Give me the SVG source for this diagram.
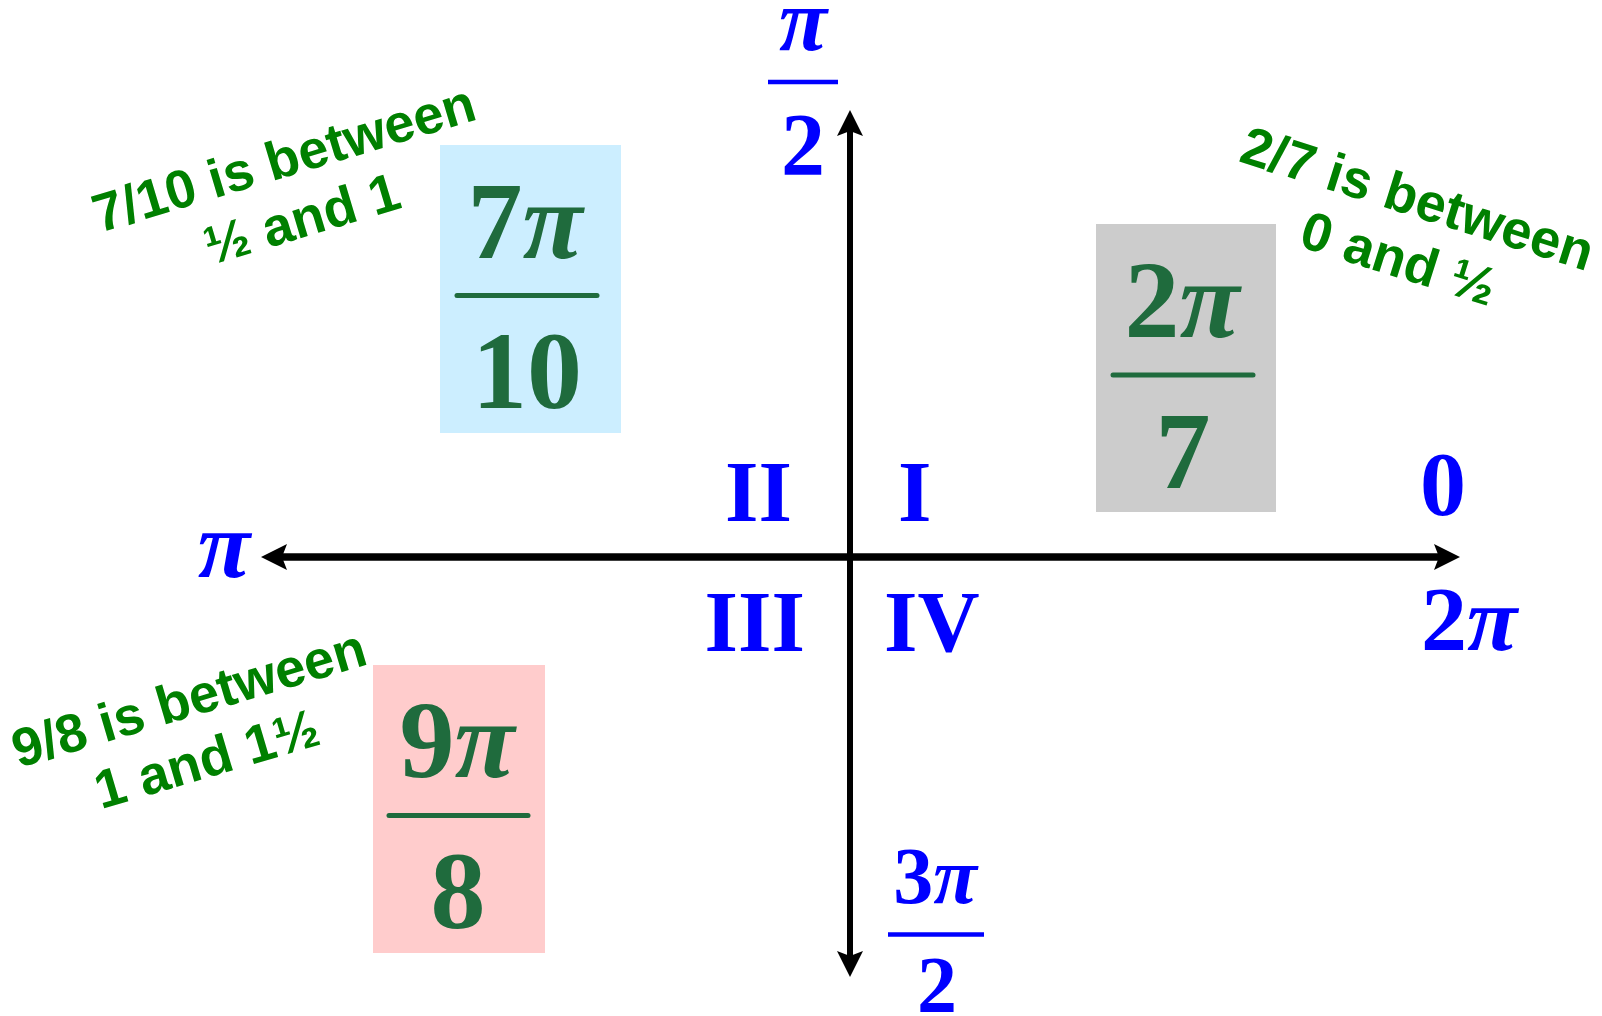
<svg xmlns="http://www.w3.org/2000/svg" width="1602" height="1016" viewBox="0 0 1602 1016">
<style>
  .num { font-family: "Liberation Serif", "Times New Roman", serif; font-weight: bold; fill: #1f6b3d; }
  .pi { font-style: italic; }
  .blue { font-family: "Liberation Serif", "Times New Roman", serif; font-weight: bold; fill: #0000ff; }
  .note { font-family: "Liberation Sans", Arial, sans-serif; font-weight: bold; fill: #008000; font-size: 54px; text-anchor: middle; }
  .bar { stroke: #1f6b3d; stroke-width: 5; stroke-linecap: round; }
  .bbar { stroke: #0000ff; stroke-width: 4.5; }
  .axis { stroke: #000; fill: none; }
</style>
<defs>
  <marker id="arrow" viewBox="0 -13 26 26" refX="10" refY="0" markerWidth="26" markerHeight="26" markerUnits="userSpaceOnUse" orient="auto-start-reverse">
    <path d="M0,-13 L26,0 L0,13 L5,0 Z" fill="#000"/>
  </marker>
</defs>
<rect width="1602" height="1016" fill="#fff"/>

<g id="connectors">
  <line class="axis" x1="277" y1="557" x2="1444" y2="557" stroke-width="7.5" marker-start="url(#arrow)" marker-end="url(#arrow)"/>
  <line class="axis" x1="850" y1="126" x2="850" y2="961" stroke-width="6" marker-start="url(#arrow)" marker-end="url(#arrow)"/>
</g>

<g id="box-7pi-10">
  <rect x="440" y="145" width="181" height="288" fill="#cceeff"/>
  <text class="num" x="525" y="258" font-size="110" text-anchor="middle">7<tspan class="pi">π</tspan></text>
  <line class="bar" x1="457" y1="295.5" x2="597" y2="295.5"/>
  <text class="num" x="527" y="408" font-size="110" text-anchor="middle">10</text>
</g>

<g id="box-2pi-7">
  <rect x="1096" y="224" width="180" height="288" fill="#cccccc"/>
  <text class="num" x="1182" y="337" font-size="110" text-anchor="middle">2<tspan class="pi">π</tspan></text>
  <line class="bar" x1="1113" y1="375" x2="1253" y2="375"/>
  <text class="num" x="1183" y="488" font-size="110" text-anchor="middle">7</text>
</g>

<g id="box-9pi-8">
  <rect x="373" y="665" width="172" height="288" fill="#ffcccc"/>
  <text class="num" x="457" y="777" font-size="110" text-anchor="middle">9<tspan class="pi">π</tspan></text>
  <line class="bar" x1="389" y1="815.5" x2="528" y2="815.5"/>
  <text class="num" x="458" y="928" font-size="110" text-anchor="middle">8</text>
</g>

<g id="label-pi-over-2">
  <text class="blue pi" x="803" y="50" font-size="88" text-anchor="middle">π</text>
  <line class="bbar" x1="768" y1="82" x2="838" y2="82"/>
  <text class="blue" x="803" y="174" font-size="88" text-anchor="middle">2</text>
</g>

<g id="label-3pi-over-2">
  <text class="blue" x="935" y="903" font-size="80" text-anchor="middle">3<tspan class="pi">π</tspan></text>
  <line class="bbar" x1="888" y1="934.5" x2="984" y2="934.5"/>
  <text class="blue" x="937" y="1012" font-size="80" text-anchor="middle">2</text>
</g>

<g id="label-pi">
  <text class="blue pi" x="224" y="577" font-size="96" text-anchor="middle">π</text>
</g>
<g id="label-0">
  <text class="blue" x="1443" y="515" font-size="92" text-anchor="middle">0</text>
</g>
<g id="label-2pi">
  <text class="blue" x="1421" y="650" font-size="92">2<tspan class="pi">π</tspan></text>
</g>

<g id="quadrant-II"><text class="blue" x="792" y="521" font-size="86" text-anchor="end">II</text></g>
<g id="quadrant-I"><text class="blue" x="898" y="521" font-size="86">I</text></g>
<g id="quadrant-III"><text class="blue" x="805" y="651" font-size="86" text-anchor="end">III</text></g>
<g id="quadrant-IV"><text class="blue" x="884" y="651" font-size="86">IV</text></g>

<g id="note-7-10" transform="translate(289,176) rotate(-16.7)">
  <text class="note" x="0" y="0">7/10 is between</text>
  <text class="note" x="0" y="63">½ and 1</text>
</g>
<g id="note-2-7" transform="translate(1412,216) rotate(17.5)">
  <text class="note" x="0" y="0">2/7 is between</text>
  <text class="note" x="0" y="63">0 and ½</text>
</g>
<g id="note-9-8" transform="translate(194,716) rotate(-16.5)">
  <text class="note" x="0" y="0">9/8 is between</text>
  <text class="note" x="0" y="63">1 and 1½</text>
</g>
</svg>
